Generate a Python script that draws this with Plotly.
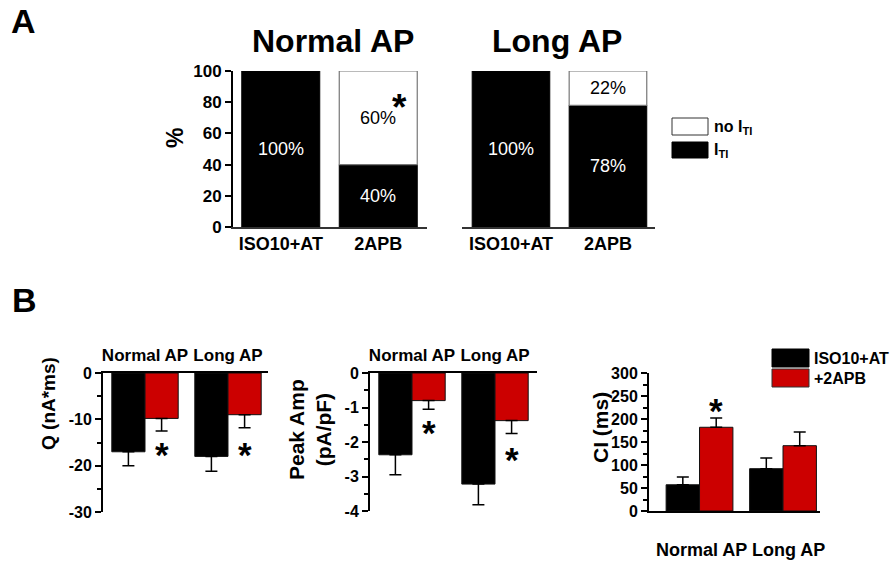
import plotly.graph_objects as go

W, H = 893, 565
FONT = "Arial, Liberation Sans, Helvetica, sans-serif"
RED = "#cc0000"

# ---- Panel A: share of cells with / without I_TI (%) ----
a_groups = ["ISO10+AT", "2APB"]
normal_iti = [100, 40]
normal_no_iti = [0, 60]
long_iti = [100, 78]
long_no_iti = [0, 22]

# ---- Panel B: ISO10+AT vs +2APB (mean, SEM) ----
b_groups = ["Normal AP", "Long AP"]
q_iso = [-17.0, -18.0]
q_iso_err = [3.0, 3.2]
q_apb = [-9.8, -9.0]
q_apb_err = [2.7, 2.8]

peak_iso = [-2.37, -3.22]
peak_iso_err = [0.58, 0.60]
peak_apb = [-0.80, -1.38]
peak_apb_err = [0.25, 0.37]

ci_iso = [57, 92]
ci_iso_err = [17, 23]
ci_apb = [182, 142]
ci_apb_err = [20, 30]

# tick values of each panel
a_ticks = [0, 20, 40, 60, 80, 100]
q_ticks = [0, -10, -20, -30]
peak_ticks = [0, -1, -2, -3, -4]
ci_ticks = [0, 50, 100, 150, 200, 250, 300]

# significance marks (x = group index, y in data units)
star_q = [(0.2, -16.6), (1.2, -16.6)]
star_peak = [(0.2, -1.59), (1.2, -2.37)]
star_ci = [(0.2, 230)]
star_a = (1.22, 80)


def xd(left, right):
    return [left / W, right / W]


def yd(top, bottom):
    return [1 - bottom / H, 1 - top / H]


fig = go.Figure()
annotations = []
shapes = []


def pct_panel(iti, no_iti, xa, ya):
    xs = list(range(len(iti)))
    fig.add_trace(go.Bar(
        x=xs, y=iti, width=0.8, xaxis=xa, yaxis=ya,
        marker=dict(color="black", line=dict(color="black", width=1)),
        hoverinfo="skip"))
    keep = [i for i, v in enumerate(no_iti) if v > 0]
    fig.add_trace(go.Bar(
        x=[xs[i] for i in keep], y=[no_iti[i] for i in keep],
        base=[iti[i] for i in keep], width=0.8, xaxis=xa, yaxis=ya,
        marker=dict(color="white", line=dict(color="#777777", width=1.2)),
        hoverinfo="skip"))
    for i in xs:
        if iti[i] > 0:
            annotations.append(dict(
                x=i, y=iti[i] / 2, xref=xa, yref=ya, text=f"{iti[i]}%",
                showarrow=False, font=dict(family=FONT, size=18, color="white")))
        if no_iti[i] > 0:
            annotations.append(dict(
                x=i, y=iti[i] + no_iti[i] / 2, xref=xa, yref=ya,
                text=f"{no_iti[i]}%", showarrow=False,
                font=dict(family=FONT, size=18, color="black")))


pct_panel(normal_iti, normal_no_iti, "x", "y")
pct_panel(long_iti, long_no_iti, "x2", "y2")


def pair_bars(iso, iso_err, apb, apb_err, xa, ya, negative):
    xs = list(range(len(iso)))
    for vals, errs, color, off in ((iso, iso_err, "black", -0.4),
                                   (apb, apb_err, RED, 0.0)):
        zeros = [0] * len(errs)
        err = dict(type="data", symmetric=False,
                   array=zeros if negative else errs,
                   arrayminus=errs if negative else zeros,
                   color="black", thickness=1.5, width=6)
        fig.add_trace(go.Bar(
            x=xs, y=vals, width=0.4, offset=off, xaxis=xa, yaxis=ya,
            marker=dict(color=color, line=dict(color="#111111", width=1)),
            error_y=err, hoverinfo="skip"))


pair_bars(q_iso, q_iso_err, q_apb, q_apb_err, "x3", "y3", True)
pair_bars(peak_iso, peak_iso_err, peak_apb, peak_apb_err, "x4", "y4", True)
pair_bars(ci_iso, ci_iso_err, ci_apb, ci_apb_err, "x5", "y5", False)


def star(x, y, xa, ya, size=35):
    annotations.append(dict(
        x=x, y=y, xref=xa, yref=ya, text="<b>*</b>", showarrow=False,
        yanchor="middle", yshift=-5,
        font=dict(family=FONT, size=size, color="black")))


star(*star_a, "x", "y", 37)
for sx, sy in star_q:
    star(sx, sy, "x3", "y3")
for sx, sy in star_peak:
    star(sx, sy, "x4", "y4")
for sx, sy in star_ci:
    star(sx, sy, "x5", "y5")


def paper_text(x, y, text, size, angle=0, anchor="center", color="black"):
    annotations.append(dict(
        x=x / W, y=1 - y / H, xref="paper", yref="paper", text=text,
        showarrow=False, textangle=angle, xanchor=anchor, yanchor="middle",
        font=dict(family=FONT, size=size, color=color)))


# panel letters and titles
paper_text(23, 21, "<b>A</b>", 34)
paper_text(24, 300, "<b>B</b>", 34)
paper_text(333, 41, "<b>Normal AP</b>", 32)
paper_text(557, 41, "<b>Long AP</b>", 32)

# axis titles
paper_text(175, 138, "<b>%</b>", 23, angle=-90)
paper_text(48, 404, "<b>Q (nA*ms)</b>", 19, angle=-90)
paper_text(310, 430, "<b>Peak Amp<br>(pA/pF)</b>", 21, angle=-90)
paper_text(600, 428, "<b>CI (ms)</b>", 21, angle=-90)
paper_text(740, 550, "<b>Normal AP Long AP</b>", 18)

# legend of panel A
shapes.append(dict(type="rect", xref="paper", yref="paper",
                   x0=672 / W, x1=708 / W, y0=1 - 135 / H, y1=1 - 118 / H,
                   fillcolor="white", line=dict(color="#333333", width=1)))
shapes.append(dict(type="rect", xref="paper", yref="paper",
                   x0=672 / W, x1=708 / W, y0=1 - 158 / H, y1=1 - 142 / H,
                   fillcolor="black", line=dict(color="black", width=1)))
paper_text(712, 127, "<b>no I<sub>TI</sub></b>", 16, anchor="left")
paper_text(712, 151, "<b>I<sub>TI</sub></b>", 16, anchor="left")

# legend of panel B
shapes.append(dict(type="rect", xref="paper", yref="paper",
                   x0=772 / W, x1=809 / W, y0=1 - 367 / H, y1=1 - 349 / H,
                   fillcolor="black", line=dict(color="black", width=1)))
shapes.append(dict(type="rect", xref="paper", yref="paper",
                   x0=772 / W, x1=809 / W, y0=1 - 387 / H, y1=1 - 369 / H,
                   fillcolor=RED, line=dict(color="#333333", width=1)))
paper_text(812, 358, "<b>ISO10+AT</b>", 16, anchor="left")
paper_text(812, 378, "<b>+2APB</b>", 16, anchor="left")

bold = dict(family=FONT, color="black", weight="bold")
common_x = dict(showgrid=False, zeroline=False, showline=True, linecolor="black",
                linewidth=2, ticks="", fixedrange=True, automargin=False)
common_y = dict(showgrid=False, zeroline=False, showline=True, linecolor="black",
                linewidth=2, ticks="outside", ticklen=6, tickwidth=2,
                tickcolor="black", fixedrange=True, automargin=False)


def ylabels(vals):
    return [f"{v:g}" for v in vals]


fig.update_layout(
    width=W, height=H,
    margin=dict(l=0, r=0, t=0, b=0, pad=0, autoexpand=False),
    paper_bgcolor="white", plot_bgcolor="white", showlegend=False,
    barmode="overlay", font=dict(family=FONT, color="black"),
    xaxis=dict(common_x, domain=xd(233, 427), range=[-0.49, 1.5], anchor="y",
               tickvals=[0, 1], ticktext=a_groups, linecolor="#333333",
               linewidth=1.5, tickfont=dict(bold, size=18)),
    yaxis=dict(common_y, domain=yd(71, 227), range=[0, 100], anchor="x",
               tickvals=a_ticks, ticktext=ylabels(a_ticks),
               tickfont=dict(bold, size=17)),
    xaxis2=dict(common_x, domain=xd(462, 655), range=[-0.505, 1.485], anchor="y2",
                tickvals=[0, 1], ticktext=a_groups, linecolor="#333333",
                linewidth=1.5, tickfont=dict(bold, size=18)),
    yaxis2=dict(domain=yd(71, 227), range=[0, 100], anchor="x2", visible=False,
                fixedrange=True),
    xaxis3=dict(common_x, domain=xd(103, 268), range=[-0.506, 1.482], anchor="y3",
                side="top", tickvals=[0, 1], ticktext=b_groups,
                ticklabelstandoff=3, tickfont=dict(bold, size=17)),
    yaxis3=dict(common_y, domain=yd(373, 512), range=[-30, 0], anchor="x3",
                tickvals=q_ticks, ticktext=ylabels(q_ticks),
                tickfont=dict(bold, size=16),
                minor=dict(dtick=5, ticks="outside", ticklen=4, tickwidth=2,
                           tickcolor="black")),
    xaxis4=dict(common_x, domain=xd(370, 537), range=[-0.506, 1.506], anchor="y4",
                side="top", tickvals=[0, 1], ticktext=b_groups,
                ticklabelstandoff=3, tickfont=dict(bold, size=17)),
    yaxis4=dict(common_y, domain=yd(373, 511), range=[-4, 0], anchor="x4",
                tickvals=peak_ticks, ticktext=ylabels(peak_ticks),
                tickfont=dict(bold, size=16),
                minor=dict(dtick=0.5, ticks="outside", ticklen=4, tickwidth=2,
                           tickcolor="black")),
    xaxis5=dict(common_x, domain=xd(649, 820), range=[-0.605, 1.443], anchor="y5",
                showticklabels=False),
    yaxis5=dict(common_y, domain=yd(373, 511), range=[0, 300], anchor="x5",
                tickvals=ci_ticks, ticktext=ylabels(ci_ticks),
                tickfont=dict(bold, size=16),
                minor=dict(dtick=25, ticks="outside", ticklen=4, tickwidth=2,
                           tickcolor="black")),
    annotations=annotations, shapes=shapes,
)

fig.write_html("out.html")
